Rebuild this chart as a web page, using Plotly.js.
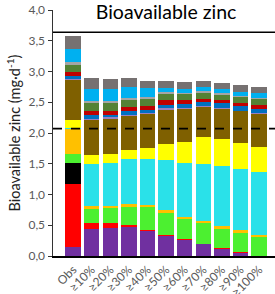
<!DOCTYPE html>
<html>
<head>
<meta charset="utf-8">
<script src="https://cdn.plot.ly/plotly-3.0.1.min.js"></script>
<style>html,body{margin:0;padding:0;background:#fff;}#chart{width:275px;height:294px;}</style>
</head>
<body>
<div id="chart"></div>
<script>
const categories = ["Obs","≥10%","≥20%","≥30%","≥40%","≥50%","≥60%","≥70%","≥80%","≥90%","≥100%"];

const purple    = [0.14, 0.44, 0.46, 0.47, 0.41, 0.33, 0.26, 0.19, 0.12, 0.055, 0];
const red       = [1.03, 0.10, 0.07, 0.03, 0.02, 0.015, 0.015, 0.01, 0.015, 0.01, 0];
const black     = [0.34, 0, 0, 0, 0, 0, 0, 0, 0, 0, 0];
const green     = [0.15, 0.23, 0.25, 0.30, 0.36, 0.36, 0.33, 0.335, 0.31, 0.315, 0.317];
const orange    = [0.40, 0.035, 0.035, 0.04, 0.035, 0.035, 0.035, 0.035, 0.045, 0.035, 0.032];
const cyan      = [0.02, 0.69, 0.70, 0.73, 0.75, 0.815, 0.875, 0.93, 0.975, 1.0, 1.01];
const yellow    = [0.125, 0.14, 0.15, 0.16, 0.185, 0.265, 0.34, 0.43, 0.43, 0.42, 0.42];
const brown     = [0.66, 0.58, 0.57, 0.55, 0.545, 0.56, 0.535, 0.49, 0.49, 0.515, 0.525];
const lavender  = [0.02, 0.02, 0.02, 0.02, 0.025, 0.02, 0.015, 0.015, 0.015, 0.015, 0.017];
const blue      = [0.045, 0.05, 0.045, 0.06, 0.04, 0.06, 0.07, 0.07, 0.08, 0.075, 0.07];
const darkred   = [0.065, 0.065, 0.05, 0.06, 0.065, 0.07, 0.055, 0.055, 0.055, 0.055, 0.065];
const darkgreen = [0.115, 0.13, 0.13, 0.12, 0.115, 0.11, 0.10, 0.095, 0.09, 0.09, 0.10];
const lightgray = [0.04, 0.033, 0.035, 0.03, 0.03, 0.025, 0.025, 0.035, 0.03, 0.02, 0.02];
const lightblue = [0.22, 0.21, 0.20, 0.17, 0.15, 0.065, 0.065, 0.06, 0.055, 0.065, 0.07];
const darkgray  = [0.21, 0.17, 0.17, 0.15, 0.12, 0.11, 0.11, 0.10, 0.105, 0.105, 0.10];

const upperLine = 3.64;
const referenceLine = 2.07;

const yTicks = [0, 0.5, 1, 1.5, 2, 2.5, 3, 3.5, 4];

const series = [
  [purple, "#7030A0"],
  [red, "#FF0000"],
  [black, "#000000"],
  [green, "#4CF030"],
  [orange, "#FFC000"],
  [cyan, "#2AE1E9"],
  [yellow, "#FFFF00"],
  [brown, "#7F6000"],
  [lavender, "#9A7FC0"],
  [blue, "#0070C0"],
  [darkred, "#C00000"],
  [darkgreen, "#548235"],
  [lightgray, "#A5A5A5"],
  [lightblue, "#00B0F0"],
  [darkgray, "#767171"]
];

const traces = series.map(([vals, col]) => ({
  type: "bar",
  x: categories,
  y: vals,
  marker: {color: col, line: {width: 0}},
  hoverinfo: "skip"
}));

const layout = {
  width: 275,
  height: 294,
  margin: {l: 53, r: 0, t: 10, b: 38},
  barmode: "stack",
  bargap: 0.17,
  showlegend: false,
  separators: ", ",
  paper_bgcolor: "#fff",
  plot_bgcolor: "#fff",
  font: {family: "Lato, 'Open Sans', sans-serif", color: "#595959"},
  title: {
    text: "Bioavailable zinc",
    font: {size: 19.5, color: "#000", family: "Lato, 'Open Sans', sans-serif"},
    x: 0.604, xanchor: "center", xref: "container",
    y: 0.960, yanchor: "middle", yref: "container"
  },
  xaxis: {
    type: "category",
    range: [-1.08, 10.86],
    tickangle: -45,
    tickfont: {size: 12, color: "#595959"},
    showline: true, linecolor: "#000", linewidth: 2,
    ticks: "", showgrid: false, zeroline: false,
    automargin: false,
    fixedrange: true
  },
  yaxis: {
    range: [0, 4],
    tickvals: yTicks,
    tickformat: ".1f",
    tickfont: {size: 12, color: "#595959"},
    ticks: "outside", ticklen: 4, tickcolor: "#333", tickwidth: 1,
    showline: true, linecolor: "#333", linewidth: 1.5,
    showgrid: false, zeroline: false,
    automargin: false,
    title: {text: "Bioavailable zinc (mg·d<sup>-1</sup>)", font: {size: 14.5, color: "#222"}, standoff: 4},
    fixedrange: true
  },
  shapes: [
    {type: "line", xref: "paper", yref: "y", x0: 0, x1: 1, y0: upperLine, y1: upperLine,
     line: {color: "#000", width: 1.5}},
    {type: "line", xref: "paper", yref: "y", x0: 0, x1: 1, y0: referenceLine, y1: referenceLine,
     line: {color: "#000", width: 1.8, dash: "dash"}}
  ]
};

Plotly.newPlot("chart", traces, layout, {displayModeBar: false, staticPlot: true});
</script>
</body>
</html>
